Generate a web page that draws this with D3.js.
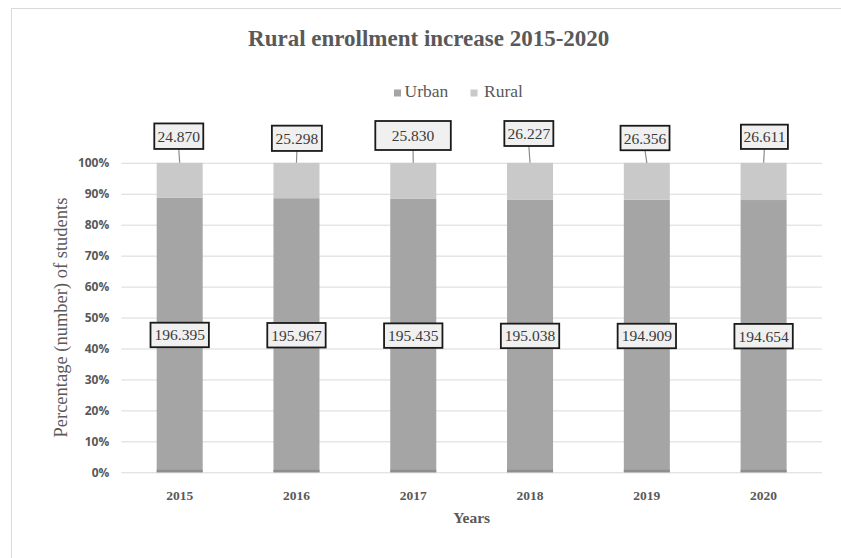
<!DOCTYPE html>
<html>
<head>
<meta charset="utf-8">
<script src="https://cdn.jsdelivr.net/npm/d3@7"></script>
<style>
  html, body { margin: 0; padding: 0; background: #ffffff; }
  svg { display: block; }
</style>
</head>
<body>
<svg id="chart" width="841" height="558"></svg>
<script>
// Enrollment (thousands) by year, shown as 100% stacked bars
const years = ["2015", "2016", "2017", "2018", "2019", "2020"];
const urban = [196.395, 195.967, 195.435, 195.038, 194.909, 194.654];
const rural = [24.870, 25.298, 25.830, 26.227, 26.356, 26.611];
const seriesNames = ["Urban", "Rural"];
const yTicks = [0, 0.1, 0.2, 0.3, 0.4, 0.5, 0.6, 0.7, 0.8, 0.9, 1.0];

// Callout placement for the rural labels above each bar (offset from the bar top, box size)
const ruralCallouts = [
  { dx: -0.9, dy: -26.6, w: 49, h: 25.5 },
  { dx: 0.4, dy: -24.5, w: 50, h: 25.3 },
  { dx: -0.2, dy: -27.3, w: 75.5, h: 29 },
  { dx: -1.2, dy: -29.3, w: 49, h: 25 },
  { dx: -1.8, dy: -24.8, w: 49, h: 24.5 },
  { dx: 0.8, dy: -26, w: 47, h: 24.3 }
];

const W = 841, H = 558;
const margin = { left: 121.3, right: 822, top: 162.8, bottom: 472.3 };
const serif = "'Liberation Serif', 'DejaVu Serif', serif";
const sans = "'Open Sans', 'Noto Sans', sans-serif";
const colors = { Urban: "#a5a5a5", Rural: "#c9c9c9" };

const svg = d3.select("#chart");

// Chart area frame
svg.append("rect")
  .attr("x", 11.5).attr("y", 8.5)
  .attr("width", W + 20).attr("height", H + 20)
  .attr("fill", "#ffffff").attr("stroke", "#d9d9d9").attr("stroke-width", 1);

const table = years.map((yr, i) => {
  const total = urban[i] + rural[i];
  return { year: yr, Urban: urban[i] / total, Rural: rural[i] / total, urbanValue: urban[i], ruralValue: rural[i] };
});

const x = d3.scaleBand().domain(years)
  .range([margin.left, margin.right])
  .paddingInner(0.606).paddingOuter(0.303);
const y = d3.scaleLinear().domain([0, 1]).range([margin.bottom, margin.top]);

// Gridlines + y tick labels
const yAxis = d3.axisLeft(y).tickValues(yTicks).tickFormat(d3.format(".0%"))
  .tickSize(-(margin.right - margin.left)).tickPadding(12);
const gy = svg.append("g").attr("transform", `translate(${margin.left},0)`).call(yAxis);
gy.select(".domain").remove();
gy.selectAll(".tick line").attr("stroke", "#d9d9d9").attr("stroke-width", 1);
gy.selectAll(".tick text")
  .attr("fill", "#595959").attr("font-family", sans)
  .attr("font-size", 12).attr("font-weight", 700);

// Stacked bars
const stack = d3.stack().keys(seriesNames)(table);
svg.append("g").selectAll("g").data(stack).join("g")
  .attr("fill", d => colors[d.key])
  .selectAll("rect").data(d => d).join("rect")
  .attr("x", d => x(d.data.year))
  .attr("width", x.bandwidth())
  .attr("y", d => y(d[1]))
  .attr("height", d => y(d[0]) - y(d[1]));

// Darker base edge on each bar
svg.append("g").selectAll("rect").data(table).join("rect")
  .attr("x", d => x(d.year)).attr("width", x.bandwidth())
  .attr("y", y(0) - 2.5).attr("height", 2.5)
  .attr("fill", "#8e8e8e");

// x axis labels
const xAxis = d3.axisBottom(x).tickSize(0).tickPadding(18);
const gx = svg.append("g").attr("transform", `translate(0,${margin.bottom})`).call(xAxis);
gx.select(".domain").remove();
gx.selectAll(".tick text")
  .attr("fill", "#595959").attr("font-family", serif)
  .attr("font-size", 13.5).attr("font-weight", 700);

const fmt = d3.format(".3f");

function boxLabel(g, cx, cy, text, w, h) {
  const t = g.append("text")
    .attr("x", cx).attr("y", cy)
    .attr("text-anchor", "middle").attr("dominant-baseline", "central")
    .attr("font-family", serif).attr("font-size", 15.5)
    .attr("fill", "#3a3a3a").text(text);
  const tw = t.node().getComputedTextLength();
  const bw = w || tw + 8, bh = h || 24.5;
  g.insert("rect", "text")
    .attr("x", cx - bw / 2).attr("y", cy - bh / 2)
    .attr("width", bw).attr("height", bh)
    .attr("fill", "#f0f0f0").attr("stroke", "#1a1a1a").attr("stroke-width", 1.8);
}

// Urban value callouts in the middle of each urban segment
const midG = svg.append("g");
table.forEach(d => {
  const g = midG.append("g");
  const cx = x(d.year) + x.bandwidth() / 2;
  const cy = y(d.Urban / 2);
  boxLabel(g, cx, cy, fmt(d.urbanValue), null, 24.5);
});

// Rural value callouts above bars with leader lines
const topG = svg.append("g");
table.forEach((d, i) => {
  const g = topG.append("g");
  const c = ruralCallouts[i];
  const bx = x(d.year) + x.bandwidth() / 2;
  const by = y(1);
  const cx = bx + c.dx, cy = by + c.dy;
  g.append("line")
    .attr("x1", cx).attr("y1", cy + c.h / 2)
    .attr("x2", bx).attr("y2", by)
    .attr("stroke", "#8c8c8c").attr("stroke-width", 1.2);
  boxLabel(g, cx, cy, fmt(d.ruralValue), c.w, c.h);
});

// Title
svg.append("text")
  .attr("x", 428.7).attr("y", 46)
  .attr("text-anchor", "middle")
  .attr("font-family", serif).attr("font-size", 23).attr("font-weight", 700)
  .attr("fill", "#595959")
  .text("Rural enrollment increase 2015-2020");

// Legend
const legendItems = [
  { name: "Urban", sx: 394, tx: 404.5 },
  { name: "Rural", sx: 470.5, tx: 484 }
];
const lg = svg.append("g");
legendItems.forEach(it => {
  lg.append("rect").attr("x", it.sx).attr("y", 89.5).attr("width", 7).attr("height", 7)
    .attr("fill", colors[it.name]);
  lg.append("text").attr("x", it.tx).attr("y", 97.3)
    .attr("font-family", serif).attr("font-size", 17.5)
    .attr("fill", "#595959").text(it.name);
});

// Axis titles
svg.append("text")
  .attr("x", (margin.left + margin.right) / 2).attr("y", 522.7)
  .attr("text-anchor", "middle")
  .attr("font-family", serif).attr("font-size", 15.5).attr("font-weight", 700)
  .attr("fill", "#595959").text("Years");

svg.append("text")
  .attr("transform", `translate(67,${(margin.top + margin.bottom) / 2}) rotate(-90)`)
  .attr("text-anchor", "middle")
  .attr("font-family", serif).attr("font-size", 18.5)
  .attr("fill", "#595959").text("Percentage (number) of students");
</script>
</body>
</html>
